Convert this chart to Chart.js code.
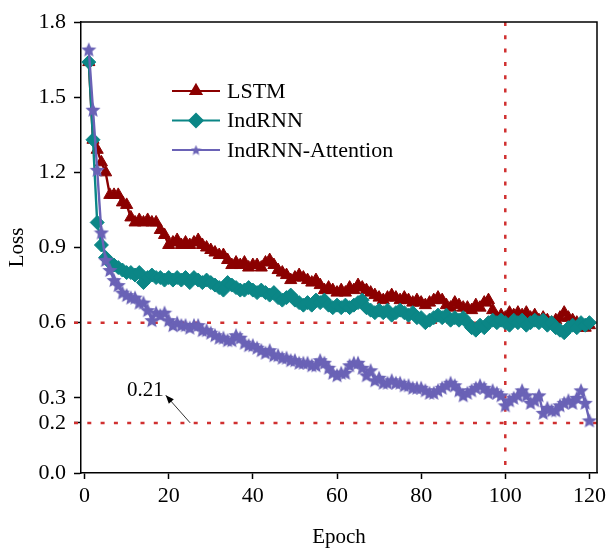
<!DOCTYPE html>
<html>
<head>
<meta charset="utf-8">
<script src="https://cdn.jsdelivr.net/npm/chart.js@4.4.1/dist/chart.umd.min.js"></script>
<style>
  html,body{margin:0;padding:0;background:#fff;}
  #wrap{position:relative;width:606px;height:550px;}
</style>
</head>
<body>
<div id="wrap"><canvas id="c" width="606" height="550"></canvas></div>
<script>
// ---------------- DATA ----------------
const epochs = [1,2,3,4,5,6,7,8,9,10,11,12,13,14,15,16,17,18,19,20,
  21,22,23,24,25,26,27,28,29,30,31,32,33,34,35,36,37,38,39,40,
  41,42,43,44,45,46,47,48,49,50,51,52,53,54,55,56,57,58,59,60,
  61,62,63,64,65,66,67,68,69,70,71,72,73,74,75,76,77,78,79,80,
  81,82,83,84,85,86,87,88,89,90,91,92,93,94,95,96,97,98,99,100,
  101,102,103,104,105,106,107,108,109,110,111,112,113,114,115,116,117,118,119,120];

const lstm = [1.64,1.33,1.29,1.24,1.20,1.11,1.11,1.11,1.08,1.07,
  1.02,1.00,1.01,1.00,1.01,1.00,1.00,0.97,0.95,0.91,
  0.92,0.93,0.91,0.92,0.91,0.92,0.93,0.91,0.90,0.89,
  0.88,0.87,0.87,0.85,0.83,0.84,0.83,0.84,0.82,0.83,
  0.83,0.82,0.84,0.85,0.83,0.81,0.80,0.79,0.77,0.78,
  0.79,0.78,0.77,0.76,0.77,0.75,0.73,0.74,0.73,0.72,
  0.73,0.72,0.74,0.73,0.75,0.74,0.73,0.72,0.71,0.70,
  0.69,0.70,0.71,0.70,0.69,0.70,0.69,0.68,0.69,0.68,
  0.67,0.68,0.69,0.70,0.69,0.67,0.66,0.68,0.67,0.66,
  0.66,0.65,0.67,0.66,0.68,0.69,0.65,0.62,0.63,0.62,
  0.64,0.63,0.64,0.63,0.64,0.62,0.63,0.61,0.62,0.61,
  0.60,0.61,0.62,0.64,0.62,0.61,0.60,0.58,0.58,0.59];

const indrnn = [1.64,1.33,1.00,0.91,0.86,0.84,0.83,0.82,0.81,0.80,
  0.80,0.79,0.80,0.76,0.78,0.79,0.78,0.78,0.77,0.78,
  0.77,0.78,0.77,0.78,0.76,0.78,0.77,0.76,0.77,0.76,
  0.75,0.74,0.73,0.76,0.75,0.74,0.73,0.73,0.74,0.73,
  0.72,0.73,0.72,0.71,0.72,0.70,0.69,0.70,0.71,0.69,
  0.68,0.67,0.68,0.67,0.69,0.68,0.69,0.67,0.66,0.67,
  0.66,0.67,0.66,0.67,0.68,0.69,0.66,0.65,0.64,0.65,
  0.64,0.65,0.63,0.64,0.65,0.64,0.63,0.64,0.62,0.62,
  0.60,0.61,0.62,0.63,0.62,0.63,0.61,0.62,0.61,0.62,
  0.60,0.58,0.57,0.59,0.58,0.60,0.61,0.60,0.61,0.60,
  0.59,0.61,0.60,0.61,0.59,0.60,0.61,0.60,0.61,0.59,
  0.60,0.58,0.57,0.56,0.58,0.59,0.58,0.60,0.59,0.60];

const attention = [1.69,1.45,1.21,0.96,0.85,0.81,0.77,0.75,0.72,0.71,
  0.70,0.70,0.68,0.68,0.65,0.61,0.64,0.63,0.64,0.61,
  0.59,0.60,0.59,0.59,0.58,0.59,0.59,0.57,0.57,0.56,
  0.55,0.54,0.54,0.53,0.53,0.55,0.54,0.52,0.51,0.51,
  0.50,0.49,0.48,0.49,0.47,0.47,0.46,0.46,0.45,0.45,
  0.44,0.44,0.44,0.43,0.43,0.45,0.44,0.42,0.40,0.39,
  0.40,0.40,0.43,0.44,0.44,0.42,0.39,0.41,0.37,0.38,
  0.36,0.36,0.37,0.36,0.36,0.35,0.35,0.34,0.34,0.34,
  0.33,0.32,0.32,0.33,0.34,0.35,0.36,0.35,0.33,0.31,
  0.32,0.33,0.34,0.35,0.34,0.32,0.33,0.32,0.31,0.27,
  0.29,0.30,0.31,0.33,0.31,0.28,0.29,0.31,0.24,0.26,
  0.25,0.25,0.27,0.28,0.29,0.28,0.30,0.33,0.28,0.21];

const seriesNames = ['LSTM', 'IndRNN', 'IndRNN-Attention'];
const xTicks = [0, 20, 40, 60, 80, 100, 120];
const yTicks = [0.0, 0.2, 0.3, 0.6, 0.9, 1.2, 1.5, 1.8];
const refLinesY = [0.6, 0.2];
const refLineX = 100;
const annotText = '0.21';
const annotTextAt = [18.8, 0.33];
const arrowFrom = [25.1, 0.2];
const arrowTo = [19.3, 0.31];

// ---------------- STYLE ----------------
const FONT = 'Liberation Serif, Times New Roman, serif';
const C_LSTM = '#8B0000';
const C_IND = '#0B8686';
const C_ATT = '#6A62B6';
const C_REF = '#D03030';

function makeStar(size, color) {
  const cv = document.createElement('canvas');
  cv.width = size; cv.height = size;
  const g = cv.getContext('2d');
  const cx = size / 2, cy = size / 2 + size * 0.04, R = size / 2, r = R * 0.45;
  g.beginPath();
  for (let i = 0; i < 10; i++) {
    const rad = -Math.PI / 2 + i * Math.PI / 5;
    const rr = i % 2 === 0 ? R : r;
    const px = cx + Math.cos(rad) * rr, py = cy + Math.sin(rad) * rr;
    if (i === 0) g.moveTo(px, py); else g.lineTo(px, py);
  }
  g.closePath();
  g.fillStyle = color;
  g.fill();
  return cv;
}
const starPoint = makeStar(16, C_ATT);
const starLegend = makeStar(11, C_ATT);

const toXY = (vals) => epochs.map((e, i) => ({ x: e, y: vals[i] }));

const decorPlugin = {
  id: 'decor',
  beforeDatasetsDraw(chart) {
    const { ctx, chartArea: a, scales: { x, y } } = chart;
    ctx.save();
    ctx.strokeStyle = C_REF;
    ctx.lineWidth = 2.5;
    ctx.setLineDash([4, 9.3]);
    refLinesY.forEach(v => {
      const py = y.getPixelForValue(v);
      ctx.beginPath(); ctx.moveTo(a.left - 7, py); ctx.lineTo(a.right, py); ctx.stroke();
    });
    const px = x.getPixelForValue(refLineX);
    ctx.beginPath(); ctx.moveTo(px, a.top); ctx.lineTo(px, a.bottom); ctx.stroke();
    ctx.restore();
  },
  afterDraw(chart) {
    const { ctx, chartArea: a, scales: { x, y } } = chart;
    ctx.save();
    // box
    ctx.strokeStyle = '#000';
    ctx.lineWidth = 1.5;
    ctx.beginPath();
    ctx.moveTo(a.left, a.top); ctx.lineTo(a.right, a.top); ctx.lineTo(a.right, a.bottom);
    ctx.stroke();
    // annotation
    ctx.fillStyle = '#000';
    ctx.font = '21px ' + FONT;
    ctx.textAlign = 'right';
    ctx.textBaseline = 'middle';
    ctx.fillText(annotText, x.getPixelForValue(annotTextAt[0]), y.getPixelForValue(annotTextAt[1]));
    const x1 = x.getPixelForValue(arrowFrom[0]), y1 = y.getPixelForValue(arrowFrom[1]);
    const x2 = x.getPixelForValue(arrowTo[0]), y2 = y.getPixelForValue(arrowTo[1]);
    ctx.strokeStyle = '#333';
    ctx.lineWidth = 1;
    ctx.beginPath(); ctx.moveTo(x1, y1); ctx.lineTo(x2, y2); ctx.stroke();
    const ang = Math.atan2(y2 - y1, x2 - x1), L = 9, W = 0.38;
    ctx.beginPath();
    ctx.moveTo(x2, y2);
    ctx.lineTo(x2 - L * Math.cos(ang - W), y2 - L * Math.sin(ang - W));
    ctx.lineTo(x2 - L * Math.cos(ang + W), y2 - L * Math.sin(ang + W));
    ctx.closePath();
    ctx.fill();
    // legend
    const items = [
      { name: seriesNames[0], color: C_LSTM, style: 'triangle', r: 6 },
      { name: seriesNames[1], color: C_IND, style: 'rectRot', r: 6.5 },
      { name: seriesNames[2], color: C_ATT, style: starLegend, r: 5 }
    ];
    const lx0 = 172, lx1 = 220, tx = 227, ty0 = 91, dy = 29.5;
    items.forEach((it, i) => {
      const yy = ty0 + i * dy;
      ctx.strokeStyle = it.color; ctx.lineWidth = 2.2;
      ctx.beginPath(); ctx.moveTo(lx0, yy); ctx.lineTo(lx1, yy); ctx.stroke();
      ctx.fillStyle = it.color;
      Chart.helpers.drawPoint(ctx, { pointStyle: it.style, radius: it.r, rotation: 0, borderWidth: 1 }, (lx0 + lx1) / 2, yy);
      if (typeof it.style === 'string') { ctx.fill(); }
      ctx.fillStyle = '#000';
      ctx.font = '22px ' + FONT;
      ctx.textAlign = 'left';
      ctx.textBaseline = 'middle';
      ctx.fillText(it.name, tx, yy + 1);
    });
    ctx.restore();
  }
};

const common = { borderWidth: 2.4, pointBorderWidth: 1, tension: 0, fill: false };

new Chart(document.getElementById('c'), {
  type: 'line',
  data: {
    datasets: [
      { ...common, label: seriesNames[0], data: toXY(lstm), borderColor: C_LSTM, backgroundColor: C_LSTM,
        pointStyle: 'triangle', pointRadius: 7, order: 3 },
      { ...common, label: seriesNames[1], data: toXY(indrnn), borderColor: C_IND, backgroundColor: C_IND,
        pointStyle: 'rectRot', pointRadius: 7, order: 2 },
      { ...common, label: seriesNames[2], data: toXY(attention), borderColor: C_ATT, backgroundColor: C_ATT,
        pointStyle: starPoint, pointRadius: 7, order: 1 }
    ]
  },
  options: {
    responsive: false,
    animation: false,
    layout: { padding: { left: 0, top: 22, right: 9, bottom: 0 } },
    plugins: { legend: { display: false }, tooltip: { enabled: false } },
    scales: {
      x: {
        type: 'linear',
        min: -0.85, max: 121.8,
        afterBuildTicks: s => { s.ticks = xTicks.map(v => ({ value: v })); },
        afterFit: s => { s.height = 77; s.paddingRight = 0; s.paddingLeft = 0; },
        grid: { drawOnChartArea: false, drawTicks: true, tickLength: 6, color: '#000', tickWidth: 1.5 },
        border: { display: true, color: '#000', width: 1.5 },
        ticks: { color: '#000', font: { family: FONT, size: 22 }, padding: 4, maxRotation: 0 },
        title: { display: true, text: 'Epoch', color: '#000', font: { family: FONT, size: 21 }, padding: { top: 0, bottom: 0 } }
      },
      y: {
        min: 0, max: 1.8,
        afterBuildTicks: s => { s.ticks = yTicks.map(v => ({ value: v })); },
        afterFit: s => { s.width = 81; s.paddingTop = 0; s.paddingBottom = 0; },
        grid: { drawOnChartArea: false, drawTicks: true, tickLength: 7, color: '#000', tickWidth: 1.5 },
        border: { display: true, color: '#000', width: 1.5 },
        ticks: { color: '#000', font: { family: FONT, size: 22 }, padding: 8, callback: v => Number(v).toFixed(1), autoSkip: false },
        title: { display: true, text: 'Loss', color: '#000', font: { family: FONT, size: 21 }, padding: { top: 5, bottom: 0 } }
      }
    }
  },
  plugins: [decorPlugin]
});
</script>
</body>
</html>
